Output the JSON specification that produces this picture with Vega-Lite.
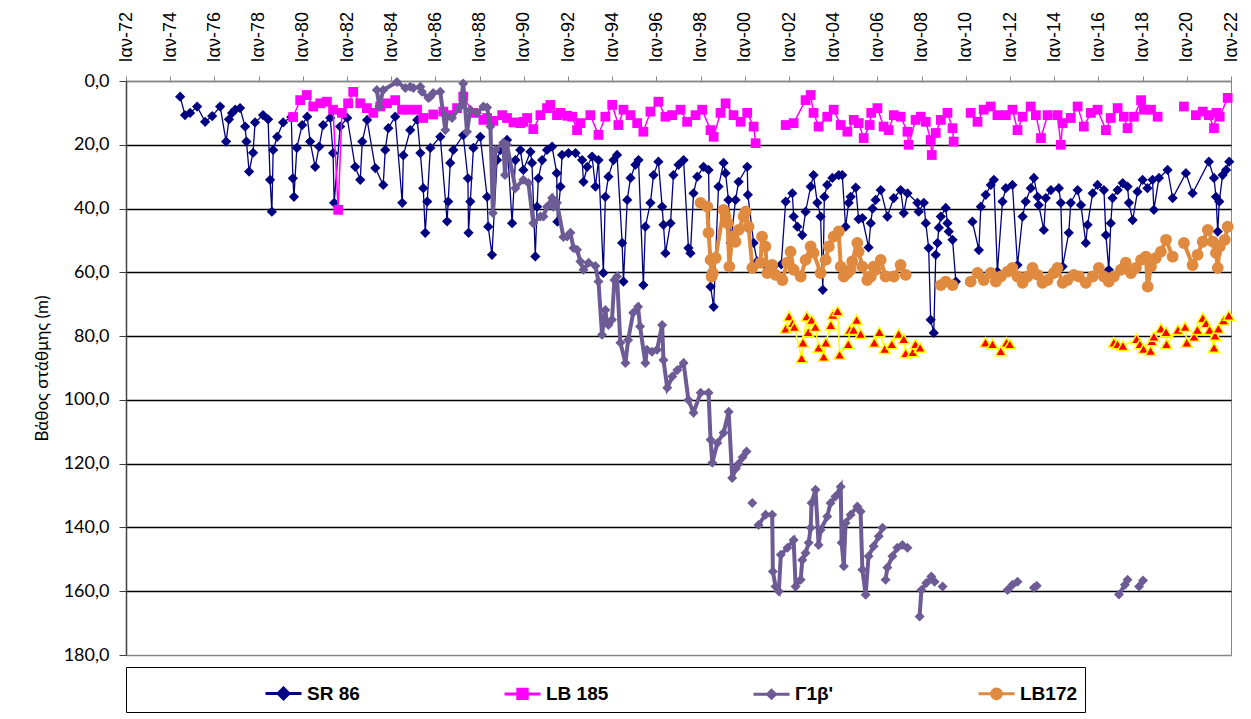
{
  "$schema": "https://vega.github.io/schema/vega-lite/v6.json",
  "width": 1105,
  "height": 574,
  "autosize": {"type": "none"},
  "padding": {"left": 126, "top": 81, "right": 20, "bottom": 64},
  "background": "white",
  "config": {
    "view": {"stroke": "#868686", "strokeWidth": 1},
    "font": "Liberation Sans"
  },
  "datasets": {
    "sr86": [
      {"year":1974.45,"depth":4.9},{"year":1974.67,"depth":10.7},{"year":1974.9,"depth":10},{"year":1975.22,"depth":8},{"year":1975.58,"depth":12.8},{"year":1975.9,"depth":11},{"year":1976.26,"depth":8},{"year":1976.53,"depth":19},{"year":1976.66,"depth":12},{"year":1976.8,"depth":10},{"year":1976.94,"depth":9},{"year":1977.16,"depth":8.5},{"year":1977.39,"depth":14.3},{"year":1977.45,"depth":19},{"year":1977.57,"depth":28.4},{"year":1977.75,"depth":22.5},{"year":1977.84,"depth":13},{"year":1978.2,"depth":10.7},{"year":1978.43,"depth":12},{"year":1978.52,"depth":31},{"year":1978.6,"depth":41},{"year":1978.66,"depth":21.6},{"year":1978.84,"depth":17.5},{"year":1979.11,"depth":13},{"year":1979.48,"depth":11.3},{"year":1979.55,"depth":30.5},{"year":1979.6,"depth":36.3},{"year":1979.73,"depth":21},{"year":1979.97,"depth":13.8},{"year":1980.2,"depth":11.2},{"year":1980.33,"depth":19},{"year":1980.56,"depth":26.9},{"year":1980.74,"depth":20.6},{"year":1980.92,"depth":13.8},{"year":1981.24,"depth":11.6},{"year":1981.37,"depth":22.6},{"year":1981.42,"depth":38.2},{"year":1981.69,"depth":14.3},{"year":1982.01,"depth":11.6},{"year":1982.37,"depth":26.9},{"year":1982.6,"depth":31},{"year":1982.69,"depth":19},{"year":1982.91,"depth":12.2},{"year":1983.28,"depth":27.3},{"year":1983.64,"depth":32.6},{"year":1983.73,"depth":21.6},{"year":1983.87,"depth":14.8},{"year":1984.18,"depth":11.2},{"year":1984.5,"depth":38.2},{"year":1984.55,"depth":23.3},{"year":1984.86,"depth":15.4},{"year":1985.18,"depth":12.2},{"year":1985.32,"depth":22.6},{"year":1985.45,"depth":33.6},{"year":1985.54,"depth":47.6},{"year":1985.63,"depth":37.8},{"year":1985.77,"depth":21},{"year":1986.22,"depth":17.5},{"year":1986.53,"depth":44},{"year":1986.58,"depth":37.8},{"year":1986.67,"depth":25.7},{"year":1986.81,"depth":21.6},{"year":1987.26,"depth":17},{"year":1987.47,"depth":30.5},{"year":1987.5,"depth":47.6},{"year":1987.58,"depth":37.8},{"year":1987.72,"depth":21},{"year":1988.03,"depth":17.5},{"year":1988.34,"depth":36.3},{"year":1988.39,"depth":45.7},{"year":1988.56,"depth":54.5},{"year":1988.79,"depth":24.8},{"year":1988.94,"depth":21.6},{"year":1989.24,"depth":18.5},{"year":1989.47,"depth":44.6},{"year":1989.62,"depth":24.8},{"year":1989.84,"depth":21.6},{"year":1989.98,"depth":27.9},{"year":1990.3,"depth":22.2},{"year":1990.37,"depth":25.7},{"year":1990.52,"depth":55},{"year":1990.6,"depth":39.4},{"year":1990.66,"depth":30.5},{"year":1990.83,"depth":24.8},{"year":1991.05,"depth":21.6},{"year":1991.28,"depth":20.6},{"year":1991.49,"depth":28.9},{"year":1991.52,"depth":44.1},{"year":1991.66,"depth":33.1},{"year":1991.73,"depth":23.2},{"year":1992.02,"depth":22.6},{"year":1992.34,"depth":22.6},{"year":1992.64,"depth":24.8},{"year":1992.7,"depth":31.6},{"year":1992.87,"depth":26.9},{"year":1993.09,"depth":23.7},{"year":1993.24,"depth":33.1},{"year":1993.38,"depth":24.8},{"year":1993.6,"depth":60.2},{"year":1993.69,"depth":36.3},{"year":1993.83,"depth":30},{"year":1994.06,"depth":24.8},{"year":1994.22,"depth":23.2},{"year":1994.45,"depth":50.8},{"year":1994.51,"depth":62.9},{"year":1994.68,"depth":37.3},{"year":1994.83,"depth":30.4},{"year":1995.05,"depth":26.3},{"year":1995.19,"depth":24.8},{"year":1995.41,"depth":64},{"year":1995.5,"depth":45.7},{"year":1995.73,"depth":38.2},{"year":1995.87,"depth":29.5},{"year":1996.09,"depth":25.3},{"year":1996.26,"depth":39.4},{"year":1996.32,"depth":45.1},{"year":1996.41,"depth":54},{"year":1996.64,"depth":44.6},{"year":1996.77,"depth":29.5},{"year":1997.0,"depth":26.3},{"year":1997.23,"depth":24.8},{"year":1997.45,"depth":52.4},{"year":1997.54,"depth":54},{"year":1997.68,"depth":35.2},{"year":1997.85,"depth":30},{"year":1998.13,"depth":26.9},{"year":1998.36,"depth":27.9},{"year":1998.45,"depth":64.5},{"year":1998.59,"depth":70.8},{"year":1998.81,"depth":33.1},{"year":1999.04,"depth":25.7},{"year":1999.13,"depth":28.9},{"year":1999.26,"depth":37.3},{"year":1999.36,"depth":50.8},{"year":1999.58,"depth":37.3},{"year":1999.72,"depth":31.6},{"year":2000.11,"depth":26.9},{"year":2000.14,"depth":35.7},{"year":2000.4,"depth":50.8},{"year":2000.56,"depth":56.6},{"year":2000.9,"depth":57.6},{"year":2001.3,"depth":58.2},{"year":2001.65,"depth":57.5},{"year":2001.85,"depth":37.8},{"year":2002.15,"depth":35.2},{"year":2002.21,"depth":42.5},{"year":2002.38,"depth":45.7},{"year":2002.6,"depth":48.3},{"year":2002.75,"depth":41},{"year":2002.98,"depth":33.1},{"year":2003.11,"depth":29.5},{"year":2003.28,"depth":38.2},{"year":2003.43,"depth":42.5},{"year":2003.53,"depth":65.5},{"year":2003.6,"depth":36.3},{"year":2003.73,"depth":32.6},{"year":2003.96,"depth":30.4},{"year":2004.25,"depth":29.5},{"year":2004.41,"depth":29.5},{"year":2004.56,"depth":45.7},{"year":2004.7,"depth":38.2},{"year":2004.79,"depth":36.3},{"year":2005.02,"depth":33.4},{"year":2005.15,"depth":43.3},{"year":2005.32,"depth":43},{"year":2005.6,"depth":52.2},{"year":2005.7,"depth":44.6},{"year":2005.78,"depth":40},{"year":2005.92,"depth":37.3},{"year":2006.15,"depth":34.2},{"year":2006.45,"depth":42.5},{"year":2006.74,"depth":36.7},{"year":2007.05,"depth":34.2},{"year":2007.19,"depth":41.4},{"year":2007.36,"depth":35.2},{"year":2007.81,"depth":38.2},{"year":2007.87,"depth":41},{"year":2008.1,"depth":38.2},{"year":2008.19,"depth":44.6},{"year":2008.32,"depth":52.4},{"year":2008.41,"depth":74.9},{"year":2008.55,"depth":79},{"year":2008.64,"depth":54.5},{"year":2008.72,"depth":50.8},{"year":2008.78,"depth":46},{"year":2008.87,"depth":42.5},{"year":2009.09,"depth":39.8},{"year":2009.17,"depth":44.6},{"year":2009.23,"depth":47.2},{"year":2009.4,"depth":49.8},{"year":2009.55,"depth":62.9},{"year":2009.9,"depth":null},{"year":2010.3,"depth":44.1},{"year":2010.59,"depth":53},{"year":2010.68,"depth":39.4},{"year":2010.9,"depth":35.7},{"year":2011.13,"depth":32.6},{"year":2011.27,"depth":31},{"year":2011.43,"depth":59.8},{"year":2011.66,"depth":37.8},{"year":2011.81,"depth":33.6},{"year":2012.11,"depth":32.6},{"year":2012.34,"depth":57.7},{"year":2012.57,"depth":42.5},{"year":2012.71,"depth":37.8},{"year":2012.94,"depth":33.6},{"year":2013.08,"depth":30.4},{"year":2013.25,"depth":36.3},{"year":2013.3,"depth":38.9},{"year":2013.53,"depth":46.7},{"year":2013.62,"depth":36.7},{"year":2013.85,"depth":34.2},{"year":2014.21,"depth":33.6},{"year":2014.3,"depth":38.2},{"year":2014.38,"depth":58.2},{"year":2014.66,"depth":47.6},{"year":2014.75,"depth":38.2},{"year":2015.06,"depth":34.2},{"year":2015.21,"depth":38.9},{"year":2015.43,"depth":50.8},{"year":2015.51,"depth":45.1},{"year":2015.74,"depth":35.2},{"year":2015.96,"depth":32.6},{"year":2016.25,"depth":34.2},{"year":2016.34,"depth":48.3},{"year":2016.47,"depth":59.2},{"year":2016.56,"depth":44.6},{"year":2016.64,"depth":36.7},{"year":2016.87,"depth":34.2},{"year":2017.1,"depth":32},{"year":2017.32,"depth":33.1},{"year":2017.38,"depth":38.2},{"year":2017.55,"depth":43.6},{"year":2017.77,"depth":34.7},{"year":2018.0,"depth":31},{"year":2018.22,"depth":33.6},{"year":2018.45,"depth":31},{"year":2018.51,"depth":40.4},{"year":2018.74,"depth":30.4},{"year":2019.13,"depth":27.9},{"year":2019.36,"depth":36.7},{"year":2019.96,"depth":28.9},{"year":2020.26,"depth":35.2},{"year":2021.0,"depth":25.3},{"year":2021.23,"depth":30.4},{"year":2021.32,"depth":36.3},{"year":2021.4,"depth":47.2},{"year":2021.47,"depth":37.8},{"year":2021.62,"depth":29.5},{"year":2021.78,"depth":27.9},{"year":2021.92,"depth":25.3}
    ],
    "lb185": [
      {"year":1979.56,"depth":11.3},{"year":1979.88,"depth":6},{"year":1980.18,"depth":4.4},{"year":1980.47,"depth":8},{"year":1980.79,"depth":7},{"year":1981.09,"depth":6.5},{"year":1981.37,"depth":9},{"year":1981.6,"depth":40.4},{"year":1981.77,"depth":10},{"year":1982.05,"depth":7},{"year":1982.28,"depth":3.4},{"year":1982.6,"depth":7},{"year":1982.9,"depth":8.5},{"year":1983.19,"depth":10},{"year":1983.5,"depth":8},{"year":1983.81,"depth":7},{"year":1984.18,"depth":6},{"year":1984.49,"depth":9},{"year":1984.77,"depth":9},{"year":1985.17,"depth":9},{"year":1985.45,"depth":11.6},{"year":1985.9,"depth":10.5},{"year":1986.36,"depth":9.6},{"year":1986.67,"depth":10.7},{"year":1986.98,"depth":8.5},{"year":1987.26,"depth":4.9},{"year":1987.72,"depth":10},{"year":1988.17,"depth":12.2},{"year":1988.34,"depth":11.6},{"year":1988.62,"depth":12.5},{"year":1989.02,"depth":10.7},{"year":1989.24,"depth":11.6},{"year":1989.53,"depth":13},{"year":1989.84,"depth":13.2},{"year":1989.98,"depth":12.8},{"year":1990.15,"depth":11.6},{"year":1990.43,"depth":15.1},{"year":1990.75,"depth":10.7},{"year":1991.05,"depth":8.5},{"year":1991.2,"depth":7.5},{"year":1991.5,"depth":10.7},{"year":1991.66,"depth":10},{"year":1991.96,"depth":10.9},{"year":1992.19,"depth":11.2},{"year":1992.41,"depth":15.4},{"year":1992.56,"depth":13.2},{"year":1993.01,"depth":10.7},{"year":1993.38,"depth":16.9},{"year":1993.69,"depth":11.2},{"year":1994.0,"depth":7.5},{"year":1994.28,"depth":13.8},{"year":1994.51,"depth":9},{"year":1994.83,"depth":10.7},{"year":1995.13,"depth":13.2},{"year":1995.41,"depth":15.9},{"year":1995.73,"depth":9.6},{"year":1996.09,"depth":6.5},{"year":1996.41,"depth":11.2},{"year":1996.71,"depth":10.7},{"year":1997.09,"depth":9},{"year":1997.39,"depth":12.8},{"year":1997.77,"depth":10.7},{"year":1998.07,"depth":9},{"year":1998.45,"depth":15.4},{"year":1998.59,"depth":17.5},{"year":1998.9,"depth":10},{"year":1999.13,"depth":7},{"year":1999.49,"depth":10.7},{"year":1999.81,"depth":12.8},{"year":2000.11,"depth":10},{"year":2000.4,"depth":14.3},{"year":2000.49,"depth":19.5},{"year":2001.0,"depth":null},{"year":2001.85,"depth":13.8},{"year":2002.21,"depth":13.2},{"year":2002.75,"depth":6},{"year":2002.98,"depth":4.4},{"year":2003.11,"depth":10},{"year":2003.34,"depth":14.3},{"year":2003.73,"depth":11.2},{"year":2004.02,"depth":9},{"year":2004.34,"depth":13.8},{"year":2004.64,"depth":15.9},{"year":2004.93,"depth":12.2},{"year":2005.15,"depth":13.2},{"year":2005.38,"depth":17.9},{"year":2005.65,"depth":13.8},{"year":2005.72,"depth":10},{"year":2006.0,"depth":8.5},{"year":2006.28,"depth":14.3},{"year":2006.51,"depth":15.4},{"year":2006.74,"depth":10.7},{"year":2007.05,"depth":11.2},{"year":2007.36,"depth":15.9},{"year":2007.41,"depth":20},{"year":2007.73,"depth":12.2},{"year":2007.96,"depth":11.2},{"year":2008.19,"depth":12.8},{"year":2008.41,"depth":18.5},{"year":2008.46,"depth":23.2},{"year":2008.64,"depth":16.3},{"year":2008.87,"depth":12.2},{"year":2009.17,"depth":10},{"year":2009.4,"depth":14.8},{"year":2009.45,"depth":19},{"year":2009.8,"depth":null},{"year":2010.22,"depth":10},{"year":2010.53,"depth":12.8},{"year":2010.81,"depth":9},{"year":2011.13,"depth":8},{"year":2011.43,"depth":10.7},{"year":2011.81,"depth":10.7},{"year":2012.11,"depth":9},{"year":2012.34,"depth":15.4},{"year":2012.57,"depth":11.2},{"year":2012.94,"depth":8},{"year":2013.17,"depth":10.7},{"year":2013.4,"depth":17.9},{"year":2013.7,"depth":10.7},{"year":2014.15,"depth":10.7},{"year":2014.3,"depth":20},{"year":2014.38,"depth":13.2},{"year":2014.75,"depth":11.6},{"year":2015.06,"depth":8},{"year":2015.34,"depth":14.3},{"year":2015.66,"depth":10},{"year":2015.96,"depth":9},{"year":2016.34,"depth":15.4},{"year":2016.56,"depth":11.6},{"year":2016.87,"depth":8.5},{"year":2017.15,"depth":11.2},{"year":2017.32,"depth":14.8},{"year":2017.61,"depth":11.2},{"year":2017.93,"depth":6},{"year":2018.06,"depth":9},{"year":2018.38,"depth":9},{"year":2018.68,"depth":11.2},{"year":2019.2,"depth":null},{"year":2019.87,"depth":8},{"year":2020.1,"depth":null},{"year":2020.41,"depth":10.7},{"year":2020.72,"depth":9.6},{"year":2021.0,"depth":10.7},{"year":2021.23,"depth":14.8},{"year":2021.34,"depth":10},{"year":2021.49,"depth":11.2},{"year":2021.85,"depth":5.3}
    ],
    "g1b": [
      {"year":1983.35,"depth":2.8},{"year":1983.46,"depth":8},{"year":1983.64,"depth":2.8},{"year":1984.26,"depth":0.3},{"year":1984.64,"depth":2.2},{"year":1984.86,"depth":1.8},{"year":1985.0,"depth":2.2},{"year":1985.32,"depth":1.8},{"year":1985.39,"depth":3.4},{"year":1985.68,"depth":5.3},{"year":1985.77,"depth":4.9},{"year":1985.9,"depth":3.8},{"year":1986.22,"depth":3.4},{"year":1986.45,"depth":15.4},{"year":1986.52,"depth":11.2},{"year":1986.75,"depth":11.6},{"year":1987.13,"depth":8},{"year":1987.26,"depth":0.8},{"year":1987.43,"depth":15.9},{"year":1987.58,"depth":9},{"year":1987.88,"depth":10},{"year":1988.17,"depth":8},{"year":1988.34,"depth":8.3},{"year":1988.49,"depth":14.3},{"year":1988.6,"depth":41.4},{"year":1988.72,"depth":21.6},{"year":1989.07,"depth":19.4},{"year":1989.15,"depth":29.5},{"year":1989.24,"depth":20},{"year":1989.62,"depth":33.6},{"year":1989.98,"depth":31},{"year":1990.21,"depth":32},{"year":1990.43,"depth":44.6},{"year":1990.75,"depth":42.5},{"year":1990.89,"depth":42.5},{"year":1991.05,"depth":39.4},{"year":1991.28,"depth":36.7},{"year":1991.34,"depth":39.4},{"year":1991.5,"depth":38.2},{"year":1991.79,"depth":48.9},{"year":1991.96,"depth":48.8},{"year":1992.11,"depth":47.6},{"year":1992.25,"depth":52.4},{"year":1992.41,"depth":52.9},{"year":1992.56,"depth":56.6},{"year":1992.7,"depth":59.2},{"year":1992.93,"depth":57},{"year":1993.24,"depth":58},{"year":1993.38,"depth":62.9},{"year":1993.54,"depth":79.6},{"year":1993.69,"depth":71.8},{"year":1993.77,"depth":75.9},{"year":1993.83,"depth":76.5},{"year":1993.99,"depth":74.9},{"year":1994.1,"depth":62.4},{"year":1994.22,"depth":61.3},{"year":1994.37,"depth":82.1},{"year":1994.6,"depth":88.4},{"year":1994.72,"depth":81.2},{"year":1994.95,"depth":72.7},{"year":1995.17,"depth":70.8},{"year":1995.26,"depth":77},{"year":1995.5,"depth":88.4},{"year":1995.57,"depth":84.3},{"year":1995.8,"depth":84.9},{"year":1996.03,"depth":84.3},{"year":1996.26,"depth":76.5},{"year":1996.32,"depth":87.5},{"year":1996.49,"depth":96.2},{"year":1996.72,"depth":92.7},{"year":1996.95,"depth":90.6},{"year":1997.23,"depth":88.4},{"year":1997.45,"depth":100},{"year":1997.68,"depth":104},{"year":1998.0,"depth":97.8},{"year":1998.36,"depth":97.8},{"year":1998.45,"depth":112.5},{"year":1998.53,"depth":119.7},{"year":1998.76,"depth":113.5},{"year":1999.04,"depth":110.3},{"year":1999.27,"depth":103.7},{"year":1999.43,"depth":124.5},{"year":1999.6,"depth":121.5},{"year":1999.72,"depth":120},{"year":1999.9,"depth":118},{"year":2000.08,"depth":116.2},{"year":2000.2,"depth":null},{"year":2000.34,"depth":132.3},{"year":2000.45,"depth":null},{"year":2000.62,"depth":139.2},{"year":2000.94,"depth":136},{"year":2001.24,"depth":136},{"year":2001.27,"depth":153.8},{"year":2001.39,"depth":158.5},{"year":2001.54,"depth":160},{"year":2001.63,"depth":148.6},{"year":2001.93,"depth":146.4},{"year":2002.21,"depth":143.9},{"year":2002.3,"depth":158.5},{"year":2002.53,"depth":156.4},{"year":2002.6,"depth":150.2},{"year":2002.75,"depth":148},{"year":2002.89,"depth":144.8},{"year":2002.98,"depth":140.1},{"year":2003.02,"depth":132.3},{"year":2003.2,"depth":128.2},{"year":2003.34,"depth":145.5},{"year":2003.43,"depth":140.8},{"year":2003.73,"depth":136.6},{"year":2003.88,"depth":132.3},{"year":2004.1,"depth":130.3},{"year":2004.34,"depth":127.2},{"year":2004.38,"depth":144.8},{"year":2004.48,"depth":152.2},{"year":2004.56,"depth":138.6},{"year":2004.79,"depth":136},{"year":2005.09,"depth":133.4},{"year":2005.24,"depth":135},{"year":2005.32,"depth":153.3},{"year":2005.47,"depth":161.1},{"year":2005.6,"depth":149},{"year":2005.83,"depth":145.9},{"year":2006.06,"depth":142.8},{"year":2006.23,"depth":140.1},{"year":2006.3,"depth":null},{"year":2006.37,"depth":156.4},{"year":2006.45,"depth":152.6},{"year":2006.68,"depth":149},{"year":2006.9,"depth":146.4},{"year":2007.13,"depth":145.5},{"year":2007.36,"depth":146.4},{"year":2007.6,"depth":null},{"year":2007.91,"depth":167.9},{"year":2007.99,"depth":159.6},{"year":2008.21,"depth":157.4},{"year":2008.44,"depth":155.4},{"year":2008.59,"depth":157},{"year":2008.75,"depth":null},{"year":2008.95,"depth":158.5},{"year":2009.2,"depth":null},{"year":2011.89,"depth":159.6},{"year":2012.11,"depth":158},{"year":2012.34,"depth":157},{"year":2012.6,"depth":null},{"year":2013.08,"depth":158.9},{"year":2013.21,"depth":158.3},{"year":2013.5,"depth":null},{"year":2016.93,"depth":161},{"year":2017.2,"depth":158},{"year":2017.32,"depth":156.4},{"year":2017.6,"depth":null},{"year":2017.84,"depth":158.5},{"year":2018.02,"depth":156.6}
    ],
    "lb172": [
      {"year":1998.0,"depth":38.2},{"year":1998.3,"depth":39.4},{"year":1998.36,"depth":47.6},{"year":1998.45,"depth":56.1},{"year":1998.5,"depth":61.3},{"year":1998.55,"depth":60.2},{"year":1998.68,"depth":55.5},{"year":1999.04,"depth":40.4},{"year":1999.13,"depth":42.5},{"year":1999.22,"depth":44.6},{"year":1999.3,"depth":58.2},{"year":1999.43,"depth":48.8},{"year":1999.58,"depth":50.4},{"year":1999.72,"depth":46.7},{"year":1999.95,"depth":42.5},{"year":2000.04,"depth":41},{"year":2000.17,"depth":45.7},{"year":2000.34,"depth":58.6},{"year":2000.71,"depth":57},{"year":2000.78,"depth":48.8},{"year":2000.93,"depth":51.9},{"year":2001.02,"depth":60.2},{"year":2001.24,"depth":57.7},{"year":2001.39,"depth":60.8},{"year":2001.7,"depth":62.4},{"year":2001.92,"depth":57},{"year":2002.07,"depth":53.5},{"year":2002.21,"depth":59.2},{"year":2002.53,"depth":61.3},{"year":2002.75,"depth":56.1},{"year":2002.98,"depth":51.9},{"year":2003.11,"depth":53.9},{"year":2003.43,"depth":60.2},{"year":2003.66,"depth":56.1},{"year":2003.8,"depth":51.9},{"year":2004.02,"depth":48.8},{"year":2004.25,"depth":47.2},{"year":2004.34,"depth":58.2},{"year":2004.48,"depth":61.3},{"year":2004.64,"depth":60.2},{"year":2004.79,"depth":59.2},{"year":2004.86,"depth":56.6},{"year":2005.09,"depth":50.8},{"year":2005.15,"depth":53.5},{"year":2005.32,"depth":58.2},{"year":2005.54,"depth":62.4},{"year":2005.7,"depth":61.3},{"year":2005.83,"depth":58.2},{"year":2005.92,"depth":59.2},{"year":2006.15,"depth":56.1},{"year":2006.37,"depth":61.3},{"year":2006.74,"depth":61.3},{"year":2007.05,"depth":57.7},{"year":2007.28,"depth":60.8},{"year":2007.6,"depth":null},{"year":2008.87,"depth":64},{"year":2009.09,"depth":62.9},{"year":2009.4,"depth":64},{"year":2009.8,"depth":null},{"year":2010.22,"depth":62.9},{"year":2010.53,"depth":60.2},{"year":2010.81,"depth":62.4},{"year":2011.13,"depth":60.2},{"year":2011.36,"depth":62.9},{"year":2011.58,"depth":61.3},{"year":2011.89,"depth":59.8},{"year":2012.11,"depth":58.6},{"year":2012.34,"depth":61.3},{"year":2012.57,"depth":63.3},{"year":2012.79,"depth":61.3},{"year":2013.02,"depth":58.6},{"year":2013.25,"depth":60.8},{"year":2013.47,"depth":63.3},{"year":2013.7,"depth":62.4},{"year":2013.98,"depth":60.2},{"year":2014.15,"depth":58.6},{"year":2014.38,"depth":63.3},{"year":2014.6,"depth":62.4},{"year":2014.89,"depth":60.8},{"year":2015.12,"depth":61.3},{"year":2015.43,"depth":63.3},{"year":2015.74,"depth":61.3},{"year":2016.02,"depth":58.6},{"year":2016.25,"depth":61.3},{"year":2016.47,"depth":62.9},{"year":2016.7,"depth":61.3},{"year":2017.02,"depth":59.2},{"year":2017.24,"depth":57},{"year":2017.47,"depth":60.2},{"year":2017.7,"depth":58.6},{"year":2017.93,"depth":56.1},{"year":2018.15,"depth":55.1},{"year":2018.23,"depth":64.5},{"year":2018.38,"depth":58.2},{"year":2018.6,"depth":55.5},{"year":2018.83,"depth":53.5},{"year":2019.06,"depth":49.8},{"year":2019.36,"depth":55.1},{"year":2019.6,"depth":null},{"year":2019.87,"depth":50.8},{"year":2020.26,"depth":57.7},{"year":2020.49,"depth":54.5},{"year":2020.72,"depth":50.4},{"year":2020.95,"depth":46.7},{"year":2021.18,"depth":50.4},{"year":2021.32,"depth":53.9},{"year":2021.4,"depth":58.6},{"year":2021.49,"depth":51.9},{"year":2021.72,"depth":49.8},{"year":2021.85,"depth":45.7}
    ],
    "tri": [
      {"year":2001.85,"depth":77.6},{"year":2002.0,"depth":73.8},{"year":2002.16,"depth":75.9},{"year":2002.24,"depth":77.1},{"year":2002.57,"depth":86.9},{"year":2002.63,"depth":82},{"year":2002.8,"depth":73.8},{"year":2002.87,"depth":78.7},{"year":2003.02,"depth":74.9},{"year":2003.19,"depth":77.1},{"year":2003.34,"depth":83.6},{"year":2003.57,"depth":86.4},{"year":2003.67,"depth":82},{"year":2003.89,"depth":76.5},{"year":2003.98,"depth":73.3},{"year":2004.2,"depth":72.1},{"year":2004.29,"depth":85.8},{"year":2004.68,"depth":82.5},{"year":2004.75,"depth":78},{"year":2004.92,"depth":78},{"year":2005.06,"depth":74.9},{"year":2005.24,"depth":79.3},{"year":2005.5,"depth":null},{"year":2005.86,"depth":82},{"year":2006.09,"depth":78.7},{"year":2006.33,"depth":84},{"year":2006.65,"depth":82.5},{"year":2006.96,"depth":79.3},{"year":2007.19,"depth":80.9},{"year":2007.28,"depth":85.3},{"year":2007.6,"depth":85},{"year":2007.72,"depth":82.5},{"year":2007.93,"depth":83.6},{"year":2008.5,"depth":null},{"year":2010.89,"depth":82},{"year":2011.21,"depth":82.5},{"year":2011.58,"depth":84.7},{"year":2011.84,"depth":82},{"year":2011.99,"depth":82.5},{"year":2012.5,"depth":null},{"year":2016.7,"depth":82},{"year":2016.87,"depth":82.5},{"year":2017.11,"depth":83},{"year":2017.73,"depth":80.9},{"year":2017.88,"depth":82.5},{"year":2018.04,"depth":84},{"year":2018.36,"depth":84.6},{"year":2018.42,"depth":81.5},{"year":2018.51,"depth":80.1},{"year":2018.83,"depth":77.6},{"year":2019.06,"depth":78.7},{"year":2019.08,"depth":82.5},{"year":2019.6,"depth":78},{"year":2019.92,"depth":77.1},{"year":2020.0,"depth":82},{"year":2020.33,"depth":80.1},{"year":2020.48,"depth":78},{"year":2020.72,"depth":74.3},{"year":2020.87,"depth":75.9},{"year":2021.03,"depth":78},{"year":2021.23,"depth":83.6},{"year":2021.28,"depth":79.8},{"year":2021.43,"depth":77.6},{"year":2021.66,"depth":75},{"year":2021.9,"depth":73.5}
    ],
    "legendrows": [
      {"series": "SR 86"}, {"series": "LB 185"}, {"series": "Γ1β'"}, {"series": "LB172\u00a0\u00a0\u00a0\u00a0\u00a0\u00a0\u00a0\u00a0\u00a0\u00a0\u00a0\u00a0\u00a0\u00a0\u00a0\u00a0\u00a0\u00a0\u00a0\u00a0\u00a0\u00a0\u00a0\u00a0\u00a0"}
    ]
  },
  "encoding": {
    "x": {
      "field": "year",
      "type": "quantitative",
      "scale": {"domain": [1972, 2022], "nice": false, "zero": false},
      "axis": {
        "orient": "top",
        "values": [1972,1974,1976,1978,1980,1982,1984,1986,1988,1990,1992,1994,1996,1998,2000,2002,2004,2006,2008,2010,2012,2014,2016,2018,2020,2022],
        "labelExpr": "'Ιαν-' + substring(toString(datum.value), 2, 4)",
        "labelAngle": -90,
        "labelFont": "Liberation Sans",
        "labelFontSize": 18,
        "labelColor": "#000000",
        "labelPadding": 14,
        "labelFlush": false,
        "labelOverlap": false,
        "labelBound": false,
        "tickColor": "#868686",
        "tickSize": 5,
        "domainColor": "#868686",
        "domainWidth": 1.5,
        "grid": false,
        "title": null
      }
    },
    "y": {
      "field": "depth",
      "type": "quantitative",
      "scale": {"domain": [0, 180], "reverse": true, "nice": false, "zero": false},
      "axis": {
        "values": [0,20,40,60,80,100,120,140,160,180],
        "labelExpr": "replace(format(datum.value, '.1f'), '.', ',')",
        "labelFont": "Lato",
        "labelFontSize": 18,
        "labelColor": "#000000",
        "labelPadding": 10,
        "tickColor": "#404040",
        "tickSize": 7,
        "domainColor": "#404040",
        "domainWidth": 1.5,
        "grid": true,
        "gridColor": {"condition": {"test": "datum.value == 0 || datum.value == 180", "value": "#868686"}, "value": "#000000"},
        "gridWidth": 1.4,
        "title": "Βάθος στάθμης (m)",
        "titleFont": "Lato",
        "titleFontSize": 17,
        "titleFontWeight": "normal",
        "titleColor": "#000000",
        "titlePadding": 12
      }
    }
  },
  "layer": [
    {"data": {"name": "sr86"}, "mark": {"type": "line", "color": "#000080", "strokeWidth": 1.3, "invalid": "break-paths-filter-domains"}, "encoding": {}},
    {"data": {"name": "sr86"}, "mark": {"type": "point", "shape": "diamond", "filled": true, "size": 105, "opacity": 1, "color": "#000080"}, "encoding": {}},
    {"data": {"name": "lb185"}, "mark": {"type": "line", "color": "#FF00FF", "strokeWidth": 1.5, "invalid": "break-paths-filter-domains"}, "encoding": {}},
    {"data": {"name": "lb185"}, "mark": {"type": "point", "shape": "square", "filled": true, "size": 95, "opacity": 1, "color": "#FF00FF"}, "encoding": {}},
    {"data": {"name": "g1b"}, "mark": {"type": "line", "color": "#6C5B94", "strokeWidth": 4, "invalid": "break-paths-filter-domains"}, "encoding": {}},
    {"data": {"name": "g1b"}, "mark": {"type": "point", "shape": "diamond", "filled": true, "size": 100, "opacity": 1, "color": "#6C5B94"}, "encoding": {}},
    {"data": {"name": "lb172"}, "mark": {"type": "line", "color": "#DF8A3E", "strokeWidth": 4, "invalid": "break-paths-filter-domains"}, "encoding": {}},
    {"data": {"name": "lb172"}, "mark": {"type": "point", "shape": "circle", "filled": true, "size": 140, "opacity": 1, "color": "#DF8A3E"}, "encoding": {}},
    {"data": {"name": "tri"}, "mark": {"type": "line", "color": "#FFFF00", "strokeWidth": 1.5, "invalid": "break-paths-filter-domains"}, "encoding": {}},
    {"data": {"name": "tri"}, "mark": {"type": "point", "shape": "triangle-up", "filled": true, "size": 120, "opacity": 1, "fill": "#FF0000", "stroke": "#FFFF00", "strokeWidth": 1.5}, "encoding": {}},
    {
      "data": {"name": "legendrows"},
      "mark": {"type": "point", "filled": true, "opacity": 1, "strokeWidth": 3},
      "encoding": {
        "fill": {
          "field": "series", "type": "nominal",
          "scale": {"domain": ["SR 86", "LB 185", "Γ1β'", "LB172\u00a0\u00a0\u00a0\u00a0\u00a0\u00a0\u00a0\u00a0\u00a0\u00a0\u00a0\u00a0\u00a0\u00a0\u00a0\u00a0\u00a0\u00a0\u00a0\u00a0\u00a0\u00a0\u00a0\u00a0\u00a0"], "range": ["#000080", "#FF00FF", "#6C5B94", "#DF8A3E"]},
          "legend": {
            "title": "\u00a0",
            "titleOrient": "left",
            "titlePadding": 131,
            "titleFontSize": 19,
            "orient": "bottom",
            "offset": 12,
            "direction": "horizontal",
            "columns": 4,
            "gridAlign": "each",
            "columnPadding": 138,
            "padding": 7,
            "strokeColor": "#000000",
            "fillColor": "#ffffff",
            "symbolSize": 1296,
            "symbolStrokeWidth": 3,
            "labelFont": "Liberation Sans",
            "labelFontWeight": "bold",
            "labelFontSize": 19,
            "labelColor": "#000000",
            "labelLimit": 600,
            "labelOffset": 4
          }
        },
        "stroke": {
          "field": "series", "type": "nominal",
          "scale": {"domain": ["SR 86", "LB 185", "Γ1β'", "LB172\u00a0\u00a0\u00a0\u00a0\u00a0\u00a0\u00a0\u00a0\u00a0\u00a0\u00a0\u00a0\u00a0\u00a0\u00a0\u00a0\u00a0\u00a0\u00a0\u00a0\u00a0\u00a0\u00a0\u00a0\u00a0"], "range": ["#000080", "#FF00FF", "#6C5B94", "#DF8A3E"]},
          "legend": {"title": "\u00a0"}
        },
        "shape": {
          "field": "series", "type": "nominal",
          "scale": {"domain": ["SR 86", "LB 185", "Γ1β'", "LB172\u00a0\u00a0\u00a0\u00a0\u00a0\u00a0\u00a0\u00a0\u00a0\u00a0\u00a0\u00a0\u00a0\u00a0\u00a0\u00a0\u00a0\u00a0\u00a0\u00a0\u00a0\u00a0\u00a0\u00a0\u00a0"], "range": ["M-1,0H1M0,-0.3L0.3,0L0,0.3L-0.3,0Z", "M-1,0H1M-0.26,-0.26H0.26V0.26H-0.26Z", "M-1,0H1M0,-0.22L0.22,0L0,0.22L-0.22,0Z", "M-1,0H1M-0.27,0A0.27,0.27 0 1,0 0.27,0A0.27,0.27 0 1,0 -0.27,0Z"]},
          "legend": {"title": "\u00a0"}
        }
      }
    }
  ]
}
